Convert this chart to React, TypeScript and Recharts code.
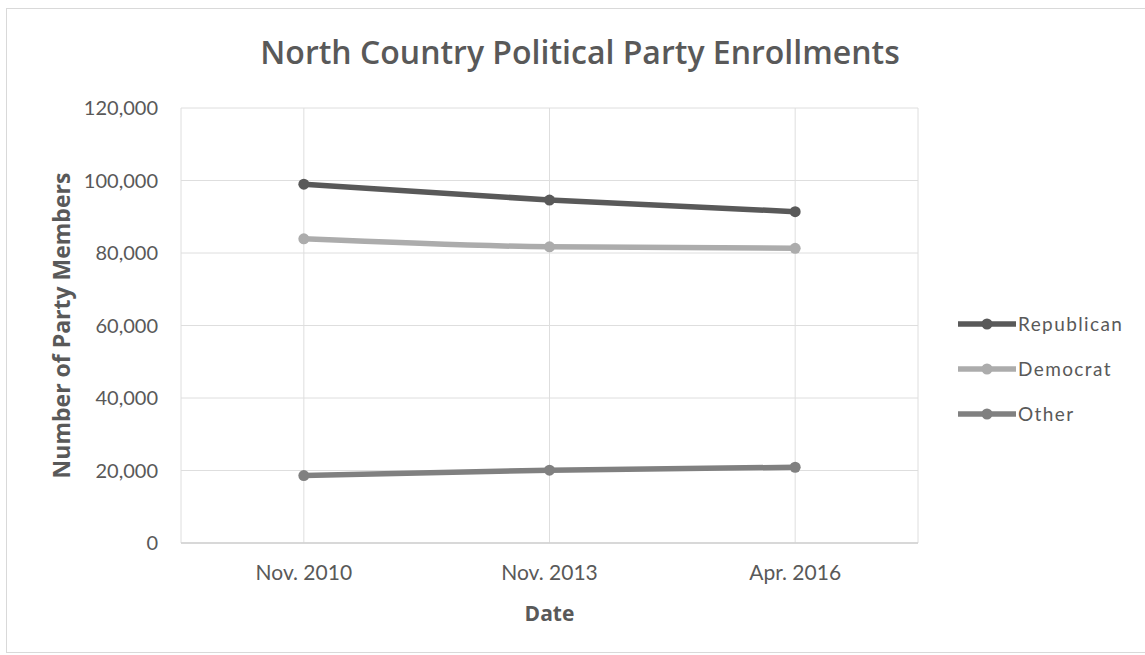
import { CartesianGrid, Line, LineChart, XAxis, YAxis } from "recharts"

const dates = ["Nov. 2010", "Nov. 2013", "Apr. 2016"]
const republican = [99000, 94600, 91400]
const democrat = [83900, 81700, 81300]
const other = [18600, 20100, 20900]
const yTicks = [0, 20000, 40000, 60000, 80000, 100000, 120000]

const series = [
  { key: "republican", name: "Republican", color: "#595959" },
  { key: "democrat", name: "Democrat", color: "#acacac" },
  { key: "other", name: "Other", color: "#808080" },
]

const data = dates.map((date, i) => ({
  idx: i,
  date,
  republican: republican[i],
  democrat: democrat[i],
  other: other[i],
}))

const FONT = "Lato, 'Open Sans', sans-serif"
const HEAD = "'Open Sans', sans-serif"
const TEXT = "#595959"

function LegendBox() {
  return (
    <div
      style={{
        position: "absolute",
        left: 957,
        top: 301,
        fontFamily: FONT,
        color: TEXT,
        fontSize: 19,
        letterSpacing: 1.4,
      }}
    >
      {series.map((s) => (
        <div key={s.key} style={{ display: "flex", alignItems: "center", height: 45 }}>
          <svg width={60} height={14}>
            <line x1={1} y1={7} x2={59} y2={7} stroke={s.color} strokeWidth={5.5} />
            <circle cx={30} cy={7} r={5.5} fill={s.color} />
          </svg>
          <span style={{ marginLeft: 1 }}>{s.name}</span>
        </div>
      ))}
    </div>
  )
}

export default function App() {
  return (
    <div style={{ position: "absolute", left: 0, top: 0, width: 1145, height: 655, background: "#fff", overflow: "hidden" }}>
      <div
        style={{
          position: "absolute",
          left: 6,
          top: 8,
          width: 1160,
          height: 643,
          border: "1px solid #d9d9d9",
        }}
      />
      <div
        style={{
          position: "absolute",
          left: 0,
          top: 30,
          width: 1160,
          textAlign: "center",
          fontFamily: HEAD,
          fontSize: 32,
          fontWeight: 600,
          color: TEXT,
        }}
      >
        North Country Political Party Enrollments
      </div>
      <LineChart
        width={1145}
        height={655}
        data={data}
        margin={{ top: 108, right: 227, bottom: 72, left: 81 }}
        style={{ position: "absolute", left: 0, top: 0 }}
      >
        <CartesianGrid stroke="#dedede" strokeWidth={1} />
        <XAxis
          dataKey="idx"
          type="number"
          domain={[-0.5, 2.5]}
          ticks={[-0.5, 0, 1, 2, 2.5]}
          tickFormatter={(v: number) => (Number.isInteger(v) ? dates[v] : "")}
          axisLine={{ stroke: "#d0d0d0", strokeWidth: 1.5 }}
          tickLine={false}
          tickMargin={16}
          height={40}
          tick={{ fill: TEXT, fontSize: 21, fontFamily: FONT }}
          label={{
            value: "Date",
            position: "insideBottom",
            offset: -38,
            fill: TEXT,
            fontSize: 21,
            fontWeight: 700,
            fontFamily: HEAD,
          }}
        />
        <YAxis
          domain={[0, 120000]}
          ticks={yTicks}
          width={100}
          axisLine={false}
          tickLine={false}
          tickMargin={17}
          tickFormatter={(v: number) => v.toLocaleString("en-US")}
          tick={{ fill: TEXT, fontSize: 20, fontFamily: FONT }}
          label={{
            value: "Number of Party Members",
            angle: -90,
            position: "insideLeft",
            offset: -19,
            style: { textAnchor: "middle" },
            fill: TEXT,
            fontSize: 23,
            fontWeight: 700,
            fontFamily: HEAD,
          }}
        />
        {series.map((s) => (
          <Line
            key={s.key}
            dataKey={s.key}
            name={s.name}
            stroke={s.color}
            strokeWidth={5.5}
            dot={{ r: 5.5, fill: s.color, stroke: s.color, strokeWidth: 0 }}
            activeDot={false}
            type="monotone"
            isAnimationActive={false}
          />
        ))}
      </LineChart>
      <LegendBox />
    </div>
  )
}
